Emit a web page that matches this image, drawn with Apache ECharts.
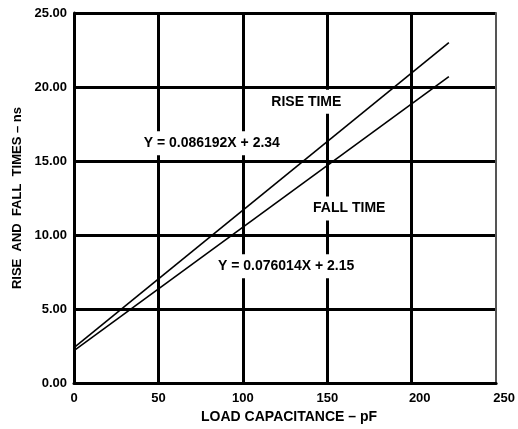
<!DOCTYPE html>
<html>
<head>
<meta charset="utf-8">
<script src="https://cdn.jsdelivr.net/npm/echarts@6/dist/echarts.min.js"></script>
<style>
    html, body { margin: 0; padding: 0; background: #fff; }
    #chart { width: 518px; height: 429px; }
</style>
</head>
<body>
<div id="chart"></div>
<script>
// values
const capacitance = [0, 222];
const riseTime = [2.4, 23.0];
const fallTime = [2.2, 20.7];
const yTicks = [0, 5, 10, 15, 20, 25];
const xTicks = [0, 50, 100, 150, 200, 250];

// annotation texts and where they sit (data units)
const notes = [
    { text: 'RISE TIME', x: 137.6, y: 19.0 },
    { text: 'Y = 0.086192X + 2.34', x: 81.6, y: 16.2 },
    { text: 'FALL TIME', x: 163, y: 11.8 },
    { text: 'Y = 0.076014X + 2.15', x: 125.6, y: 7.9 }
];

const font = "'Liberation Sans', Arial, sans-serif";
const black = '#000';

let myChart = echarts.init(document.getElementById('chart'), null, { renderer: 'canvas' });

myChart.setOption({
    animation: false,
    grid: { left: 74, right: 18, top: 13, bottom: 39 },
    xAxis: {
        type: 'value',
        min: xTicks[0],
        max: xTicks[xTicks.length - 1],
        interval: 50,
        name: 'LOAD CAPACITANCE – pF',
        nameLocation: 'middle',
        nameGap: 25,
        nameTextStyle: { fontFamily: font, fontWeight: 'bold', fontSize: 14, color: black, padding: [0, 0, 0, 8] },
        axisLine: { lineStyle: { color: black, width: 3 } },
        axisTick: { show: false },
        axisLabel: {
            margin: 9,
            fontFamily: font, fontWeight: 'bold', fontSize: 13, color: black,
            formatter: function (v) { return v >= 200 ? '{s|' + v + '}' : '' + v; },
            rich: { s: { fontFamily: font, fontWeight: 'bold', fontSize: 13, color: black, padding: [0, 0, 0, 16] } }
        },
        splitLine: { show: true, showMaxLine: false, lineStyle: { color: black, width: 3 } }
    },
    yAxis: [{
        type: 'value',
        min: yTicks[0],
        max: yTicks[yTicks.length - 1],
        interval: 5,
        name: 'RISE  AND  FALL  TIMES – ns',
        nameLocation: 'middle',
        nameGap: 38,
        nameTextStyle: { fontFamily: font, fontWeight: 'bold', fontSize: 13, color: black },
        axisLine: { show: true, lineStyle: { color: black, width: 3 } },
        axisTick: { show: false },
        axisLabel: {
            margin: 7,
            fontFamily: font, fontWeight: 'bold', fontSize: 13, color: black,
            formatter: function (v) { return v.toFixed(2); }
        },
        splitLine: { show: true, lineStyle: { color: black, width: 3 } }
    }, {
        type: 'value',
        position: 'right',
        min: 0, max: 25, interval: 5,
        axisLine: { show: true, lineStyle: { color: '#555', width: 2 } },
        axisTick: { show: false },
        axisLabel: { show: false },
        splitLine: { show: false }
    }],
    series: [{
        name: 'RISE TIME',
        type: 'line',
        symbol: 'none',
        data: capacitance.map((c, i) => [c, riseTime[i]]),
        lineStyle: { color: black, width: 1.6 },
        markPoint: {
            symbol: 'circle',
            symbolSize: 0,
            itemStyle: { color: 'transparent' },
            label: {
                show: true,
                position: 'inside',
                formatter: '{b}',
                fontFamily: font, fontWeight: 'bold', fontSize: 14, color: black,
                backgroundColor: '#fff',
                padding: [6, 4, 4, 4]
            },
            data: notes.map(n => ({ name: n.text, coord: [n.x, n.y] }))
        }
    }, {
        name: 'FALL TIME',
        type: 'line',
        symbol: 'none',
        data: capacitance.map((c, i) => [c, fallTime[i]]),
        lineStyle: { color: black, width: 1.6 }
    }]
});
</script>
</body>
</html>
